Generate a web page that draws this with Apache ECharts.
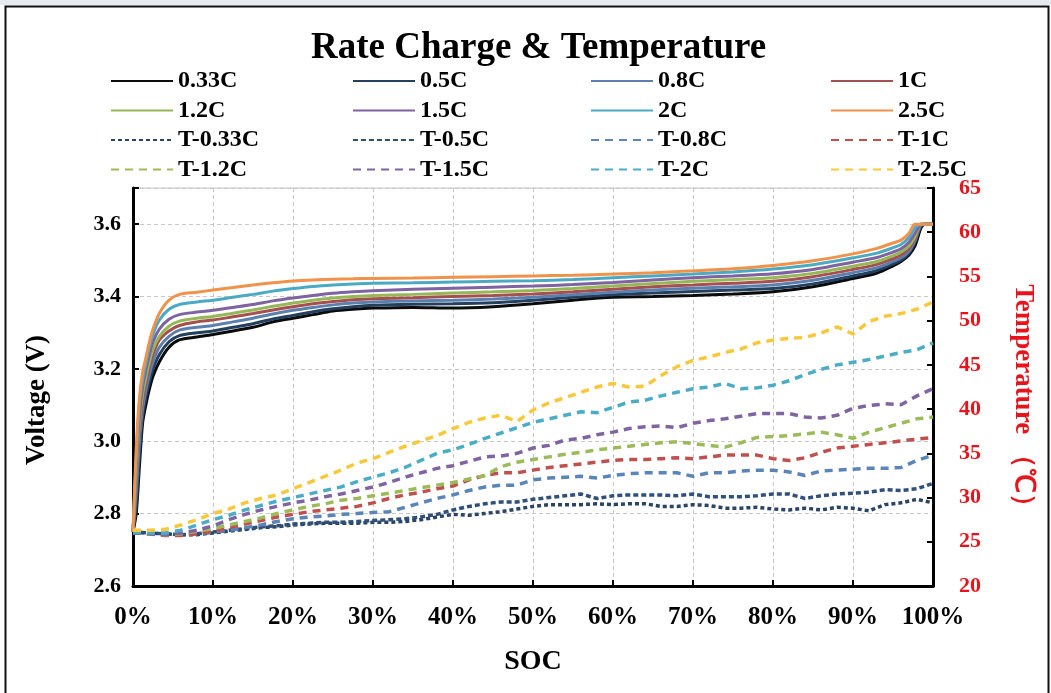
<!DOCTYPE html>
<html>
<head>
<meta charset="utf-8">
<script src="https://cdn.jsdelivr.net/npm/echarts@6/dist/echarts.min.js"></script>
<style>
  html, body { margin: 0; padding: 0; background: #fff; }
  #chart { width: 1051px; height: 693px; }
</style>
</head>
<body>
<div id="chart"></div>
<script>
// State of charge (%) at which the voltage curves are sampled
const socV = [0, 0.4, 0.8, 1.2, 1.6, 2, 2.5, 3.3, 4.5, 5.8, 8, 10, 12.5, 15, 17.5, 20, 22.5, 25, 27.5, 30,
  35, 40, 45, 50, 55, 60, 65, 70, 75, 80, 85, 90, 93, 95, 96, 97, 97.75, 98.5, 99, 100];

// Cell voltage (V) for each charge rate
const v033 = [2.75, 2.80, 2.93, 3.05, 3.10, 3.14, 3.18, 3.22, 3.26, 3.28, 3.288, 3.295, 3.305, 3.315, 3.33, 3.34, 3.35, 3.36, 3.365, 3.368,
  3.37, 3.368, 3.372, 3.38, 3.39, 3.398, 3.40, 3.403, 3.407, 3.413, 3.427, 3.45, 3.465, 3.485, 3.497, 3.515, 3.54, 3.59, 3.60, 3.60];
const v05 = [2.75, 2.82, 2.96, 3.07, 3.12, 3.16, 3.20, 3.24, 3.275, 3.292, 3.30, 3.305, 3.315, 3.325, 3.338, 3.348, 3.358, 3.366, 3.372, 3.376,
  3.379, 3.38, 3.383, 3.39, 3.398, 3.405, 3.41, 3.414, 3.418, 3.422, 3.435, 3.457, 3.472, 3.49, 3.50, 3.52, 3.55, 3.595, 3.60, 3.60];
const v08 = [2.75, 2.86, 3.00, 3.09, 3.14, 3.18, 3.22, 3.26, 3.29, 3.307, 3.315, 3.32, 3.33, 3.34, 3.352, 3.362, 3.37, 3.377, 3.382, 3.385,
  3.388, 3.39, 3.393, 3.398, 3.405, 3.412, 3.418, 3.423, 3.427, 3.432, 3.445, 3.466, 3.48, 3.497, 3.507, 3.525, 3.555, 3.598, 3.60, 3.60];
const v10 = [2.75, 2.89, 3.03, 3.11, 3.16, 3.20, 3.24, 3.28, 3.305, 3.32, 3.33, 3.335, 3.344, 3.353, 3.363, 3.372, 3.38, 3.386, 3.391, 3.394,
  3.397, 3.40, 3.403, 3.407, 3.413, 3.42, 3.427, 3.432, 3.437, 3.442, 3.455, 3.475, 3.489, 3.505, 3.515, 3.533, 3.56, 3.60, 3.60, 3.60];
const v12 = [2.75, 2.91, 3.05, 3.13, 3.175, 3.215, 3.255, 3.29, 3.318, 3.332, 3.34, 3.345, 3.354, 3.363, 3.373, 3.382, 3.39, 3.396, 3.40, 3.403,
  3.406, 3.41, 3.413, 3.417, 3.422, 3.429, 3.436, 3.442, 3.447, 3.452, 3.464, 3.484, 3.497, 3.513, 3.523, 3.54, 3.565, 3.60, 3.60, 3.60];
const v15 = [2.75, 2.93, 3.07, 3.15, 3.195, 3.235, 3.275, 3.31, 3.337, 3.35, 3.357, 3.362, 3.37, 3.378, 3.388, 3.396, 3.403, 3.409, 3.413, 3.416,
  3.42, 3.423, 3.426, 3.429, 3.433, 3.439, 3.446, 3.452, 3.457, 3.463, 3.475, 3.495, 3.508, 3.523, 3.532, 3.55, 3.575, 3.60, 3.60, 3.60];
const v20 = [2.75, 2.95, 3.10, 3.17, 3.215, 3.255, 3.295, 3.335, 3.365, 3.378, 3.385, 3.39, 3.398, 3.406, 3.415, 3.422, 3.428, 3.432, 3.435, 3.437,
  3.438, 3.44, 3.442, 3.444, 3.447, 3.452, 3.457, 3.462, 3.468, 3.476, 3.488, 3.507, 3.52, 3.535, 3.544, 3.563, 3.59, 3.60, 3.60, 3.60];
const v25 = [2.75, 2.98, 3.12, 3.19, 3.23, 3.27, 3.31, 3.354, 3.39, 3.406, 3.412, 3.418, 3.425, 3.432, 3.438, 3.443, 3.446, 3.448, 3.449, 3.45,
  3.451, 3.453, 3.455, 3.457, 3.459, 3.462, 3.466, 3.471, 3.477, 3.486, 3.499, 3.518, 3.533, 3.548, 3.556, 3.575, 3.60, 3.60, 3.60, 3.60];

// State of charge (%) at which the temperatures are sampled
const socT = [0, 2, 4, 6, 8, 10, 12, 14, 16, 18, 20, 22, 24, 26, 28, 30, 32, 34, 36, 38, 40, 42, 44, 46, 48, 50,
  52, 54, 56, 58, 60, 62, 64, 66, 68, 70, 72, 74, 76, 78, 80, 82, 84, 86, 88, 90, 92, 94, 96, 98, 100];

// Cell temperature (°C) for each charge rate
const t033 = [26.1, 26.0, 25.9, 25.8, 25.8, 26.0, 26.2, 26.4, 26.6, 26.7, 26.9, 27.0, 27.1, 27.1, 27.1, 27.2, 27.2, 27.3, 27.5, 27.8, 28.1, 28.0, 28.2, 28.4, 28.7, 29.0,
  29.2, 29.2, 29.2, 29.3, 29.2, 29.3, 29.3, 29.0, 29.0, 29.2, 29.1, 28.8, 28.8, 28.9, 28.7, 28.6, 28.8, 28.6, 28.9, 28.8, 28.5, 29.2, 29.4, 29.8, 29.4];
const t05 = [26.1, 26.0, 25.9, 25.8, 25.9, 26.1, 26.3, 26.5, 26.7, 26.8, 27.0, 27.1, 27.2, 27.2, 27.3, 27.4, 27.5, 27.6, 27.8, 28.1, 28.6, 29.0, 29.3, 29.5, 29.5, 29.8,
  30.0, 30.2, 30.4, 29.9, 30.2, 30.3, 30.3, 30.3, 30.2, 30.4, 30.1, 30.1, 30.1, 30.2, 30.4, 30.4, 29.9, 30.2, 30.4, 30.5, 30.6, 30.9, 30.8, 31.0, 31.6];
const t08 = [26.0, 25.9, 25.8, 25.8, 25.9, 26.1, 26.3, 26.6, 26.9, 27.3, 27.6, 27.8, 27.9, 28.1, 28.2, 28.3, 28.4, 28.9, 29.4, 29.9, 30.3, 30.8, 31.2, 31.4, 31.4, 32.0,
  32.2, 32.3, 32.4, 32.2, 32.5, 32.7, 32.8, 32.8, 32.8, 32.4, 32.8, 32.8, 33.0, 33.1, 33.1, 32.9, 32.5, 33.0, 33.1, 33.2, 33.3, 33.3, 33.4, 34.2, 34.8];
const t10 = [26.0, 25.9, 25.7, 25.7, 25.9, 26.2, 26.6, 27.0, 27.4, 27.8, 28.1, 28.4, 28.6, 28.8, 29.0, 29.4, 29.9, 30.3, 30.6, 31.0, 31.3, 32.0, 32.5, 32.8, 32.8, 33.1,
  33.4, 33.6, 33.8, 34.0, 34.2, 34.3, 34.3, 34.4, 34.5, 34.4, 34.6, 34.8, 34.8, 34.8, 34.4, 34.2, 34.5, 35.1, 35.6, 35.8, 36.0, 36.2, 36.4, 36.6, 36.8];
const t12 = [26.0, 25.9, 25.8, 25.9, 26.2, 26.5, 26.9, 27.3, 27.7, 28.2, 28.6, 29.0, 29.3, 29.7, 29.9, 30.2, 30.5, 30.8, 31.1, 31.4, 31.7, 32.1, 32.5, 33.5, 34.0, 34.3,
  34.6, 34.9, 35.1, 35.4, 35.6, 35.8, 36.0, 36.2, 36.3, 36.1, 35.9, 35.7, 36.2, 36.8, 36.9, 37.0, 37.2, 37.4, 37.1, 36.7, 37.4, 37.9, 38.4, 38.9, 39.1];
const t15 = [26.0, 25.9, 25.8, 26.0, 26.3, 26.8, 27.5, 28.1, 28.6, 29.0, 29.4, 29.7, 30.1, 30.4, 30.8, 31.2, 31.7, 32.3, 32.8, 33.3, 33.6, 34.1, 34.6, 34.7, 35.0, 35.6,
  35.9, 36.5, 36.7, 37.1, 37.4, 37.8, 38.0, 38.1, 37.9, 38.4, 38.7, 38.9, 39.2, 39.5, 39.5, 39.5, 39.1, 39.0, 39.3, 40.1, 40.4, 40.6, 40.5, 41.5, 42.3];
const t20 = [26.1, 26.0, 26.0, 26.3, 26.9, 27.5, 28.0, 28.6, 29.1, 29.6, 30.0, 30.4, 30.8, 31.2, 31.8, 32.3, 32.8, 33.4, 34.2, 35.0, 35.4, 36.0, 36.7, 37.3, 37.9, 38.5,
  38.9, 39.3, 39.7, 39.6, 40.2, 40.8, 41.0, 41.5, 41.9, 42.3, 42.5, 42.9, 42.3, 42.4, 42.7, 43.2, 43.9, 44.5, 45.0, 45.3, 45.6, 46.0, 46.4, 46.7, 47.5];
const t25 = [26.3, 26.3, 26.4, 26.9, 27.5, 28.2, 28.7, 29.4, 29.9, 30.3, 31.0, 31.7, 32.4, 33.1, 33.9, 34.4, 35.1, 35.8, 36.4, 37.0, 37.8, 38.5, 39.0, 39.3, 38.6, 39.9,
  40.7, 41.3, 41.9, 42.5, 42.9, 42.5, 42.6, 43.8, 44.8, 45.5, 45.9, 46.4, 46.8, 47.5, 47.8, 48.0, 48.1, 48.6, 49.3, 48.5, 49.9, 50.5, 50.8, 51.3, 52.1];

// Axis tick values
const voltTicks = { min: 2.6, max: 3.7, step: 0.2 };
const tempTicks = { min: 20, max: 65, step: 5 };
const socTicks = { min: 0, max: 100, step: 10 };

const FONT = "'Liberation Serif', 'Times New Roman', serif";

const voltageSets = [
  { name: '0.33C', data: v033, color: '#0b0b0b' },
  { name: '0.5C', data: v05, color: '#24405f' },
  { name: '0.8C', data: v08, color: '#5b80b0' },
  { name: '1C', data: v10, color: '#a5504e' },
  { name: '1.2C', data: v12, color: '#95b755' },
  { name: '1.5C', data: v15, color: '#7e62a1' },
  { name: '2C', data: v20, color: '#4aaac4' },
  { name: '2.5C', data: v25, color: '#f0924a' }
];
const tempSets = [
  { name: 'T-0.33C', data: t033, color: '#2a4466', dash: [4, 3] },
  { name: 'T-0.5C', data: t05, color: '#30507a', dash: [5, 3] },
  { name: 'T-0.8C', data: t08, color: '#5b84b8', dash: [8, 6] },
  { name: 'T-1C', data: t10, color: '#c0504d', dash: [8, 6] },
  { name: 'T-1.2C', data: t12, color: '#9bbb59', dash: [8, 6] },
  { name: 'T-1.5C', data: t15, color: '#8064a2', dash: [8, 6] },
  { name: 'T-2C', data: t20, color: '#4bacc6', dash: [8, 6] },
  { name: 'T-2.5C', data: t25, color: '#f8c83a', dash: [8, 6] }
];

const series = [];
voltageSets.forEach(s => {
  series.push({
    name: s.name, type: 'line', yAxisIndex: 0, symbol: 'none', smooth: 0.3,
    data: socV.map((x, i) => [x, s.data[i]]),
    lineStyle: { color: s.color, width: 3 }, itemStyle: { color: s.color }
  });
});
tempSets.forEach(s => {
  series.push({
    name: s.name, type: 'line', yAxisIndex: 1, symbol: 'none',
    data: socT.map((x, i) => [x, s.data[i]]),
    lineStyle: { color: s.color, width: 3.5, type: s.dash }, itemStyle: { color: s.color }
  });
});

// Four legend columns laid out as in the printed figure
const legendCols = [
  { left: 110, names: ['0.33C', '1.2C', 'T-0.33C', 'T-1.2C'] },
  { left: 352, names: ['0.5C', '1.5C', 'T-0.5C', 'T-1.5C'] },
  { left: 590, names: ['0.8C', '2C', 'T-0.8C', 'T-2C'] },
  { left: 830, names: ['1C', '2.5C', 'T-1C', 'T-2.5C'] }
];
const legends = legendCols.map(c => ({
  data: c.names, orient: 'vertical', left: c.left, top: 69,
  itemWidth: 62, itemHeight: 14, itemGap: 5.5, padding: 0,
  selectedMode: false,
  itemStyle: { opacity: 0 },
  textStyle: { fontFamily: FONT, fontWeight: 'bold', fontSize: 24, color: '#000', lineHeight: 22 }
}));

const chart = echarts.init(document.getElementById('chart'), null, { renderer: 'canvas' });
chart.setOption({
  backgroundColor: '#ffffff',
  animation: false,
  title: {
    text: 'Rate Charge & Temperature', left: 306, top: 25,
    textStyle: { fontFamily: FONT, fontWeight: 'bold', fontSize: 37, color: '#000' }
  },
  legend: legends,
  grid: { left: 133, right: 118, top: 188, bottom: 107, show: true, borderColor: '#c0c0c0', borderWidth: 1 },
  xAxis: {
    type: 'value', min: socTicks.min, max: socTicks.max, interval: socTicks.step,
    name: 'SOC', nameLocation: 'middle', nameGap: 62,
    nameTextStyle: { fontFamily: FONT, fontWeight: 'bold', fontSize: 28, color: '#000' },
    axisLine: { lineStyle: { color: '#000', width: 3 } },
    axisTick: { inside: true, length: 6, lineStyle: { color: '#000', width: 2 } },
    axisLabel: { margin: 19, formatter: v => v + '%', fontFamily: FONT, fontWeight: 'bold', fontSize: 25, color: '#000' },
    splitLine: { show: true, lineStyle: { color: '#c8c8c8', type: [4, 3], width: 1 } }
  },
  yAxis: [{
    type: 'value', position: 'left', min: voltTicks.min, max: voltTicks.max, interval: voltTicks.step,
    name: 'Voltage (V)', nameLocation: 'middle', nameGap: 82, nameRotate: 90,
    nameTextStyle: { fontFamily: FONT, fontWeight: 'bold', fontSize: 27, color: '#000', padding: [0, 26, 0, 0] },
    axisLine: { show: true, lineStyle: { color: '#000', width: 3 } },
    axisTick: { show: true, inside: true, length: 6, lineStyle: { color: '#000', width: 2 } },
    axisLabel: {
      margin: 12, fontFamily: FONT, fontWeight: 'bold', fontSize: 22, color: '#000',
      formatter: v => (v > voltTicks.max - 0.05 ? '' : v.toFixed(1))
    },
    splitLine: { show: true, lineStyle: { color: '#c8c8c8', type: [4, 3], width: 1 } }
  }, {
    type: 'value', position: 'right', min: tempTicks.min, max: tempTicks.max, interval: tempTicks.step,
    name: 'Temperature （℃）', nameLocation: 'middle', nameGap: 76, nameRotate: -90,
    nameTextStyle: { fontFamily: FONT, fontWeight: 'bold', fontSize: 27, color: '#e8141c', padding: [0, 0, 0, 30] },
    axisLine: { show: true, lineStyle: { color: '#000', width: 3 } },
    axisTick: { show: true, inside: true, length: 6, lineStyle: { color: '#000', width: 2 } },
    axisLabel: { margin: 26, fontFamily: FONT, fontWeight: 'bold', fontSize: 22, color: '#e8141c' },
    splitLine: { show: false }
  }],
  graphic: [
    { type: 'rect', left: 0, top: 0, shape: { width: 1051, height: 5 }, style: { fill: '#e8eaf2' }, silent: true },
    { type: 'rect', left: 3, top: 4, shape: { width: 1043, height: 700 }, style: { fill: 'none', stroke: '#111', lineWidth: 2 }, silent: true, z: 100 }
  ],
  series: series
});
</script>
</body>
</html>
